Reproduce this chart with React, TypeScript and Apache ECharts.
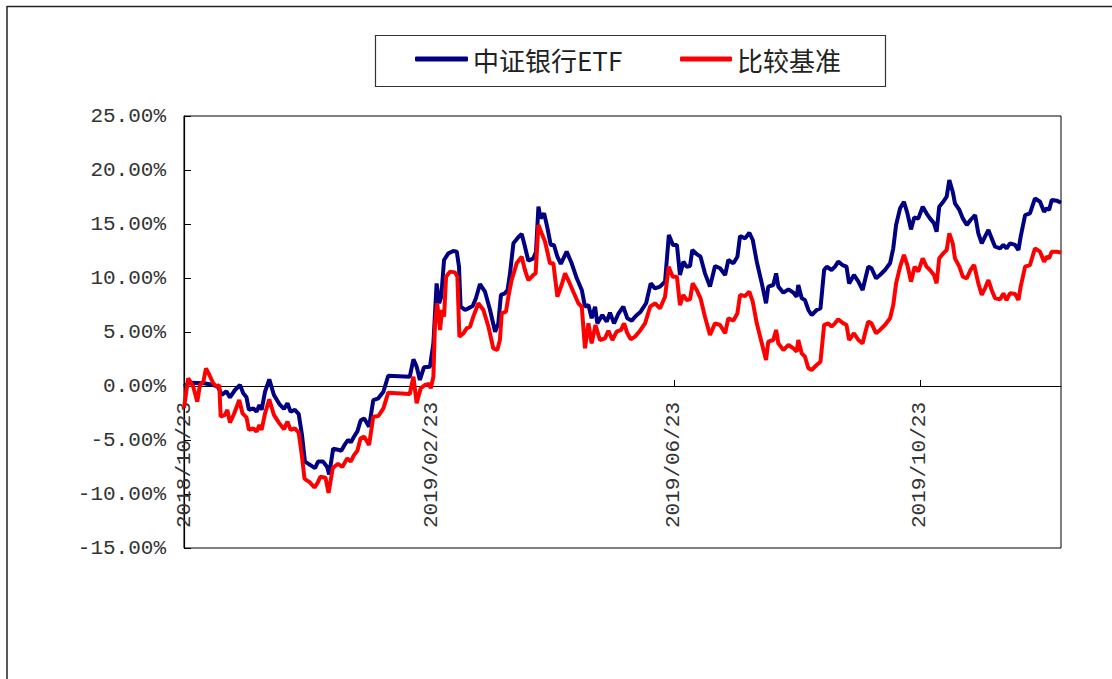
import React, { useEffect, useRef } from "react";
import * as echarts from "echarts";

// x positions are calendar days counted from 2018/10/23
const lastDay = 435;
const tickDays = [0, 123, 243, 365];
const tickLabels = ["2018/10/23", "2019/02/23", "2019/06/23", "2019/10/23"];

const seriesNames = ["中证银行ETF", "比较基准"];

const etfDays = [
  0, 3, 10, 14.5, 17, 18.7, 21, 22.8, 25.3, 27.8, 29.4, 31, 32.2, 34.4, 36, 37.4, 38.5, 40.2, 42.3, 44.6,
  47.3, 49.6, 51.3, 52.9, 55, 56.9, 58.5, 60, 62.5, 65, 66.5, 69, 71, 72, 74, 76.4, 78, 79.5, 81.3, 82.8,
  84.3, 86, 87.6, 89.4, 91.8, 93.9, 96.4, 98.9, 101.3, 112, 113.8, 115.4, 117, 119, 122, 123.7, 125.3, 126.6, 127.6, 129,
  131.1, 133.6, 135.3, 136.4, 137.2, 139.4, 141, 143.2, 144.8, 146.8, 149.3, 151.8, 154.3, 155.9, 157.2, 159.2, 160.5, 161.7, 163.4, 165.8,
  167.5, 168.7, 170.8, 173.3, 174.6, 175.8, 176.9, 178.6, 180.2, 181.9, 183.5, 185.2, 186.9, 189.8, 192.3, 194.8, 197.3, 198.9, 200.6, 202.2,
  203.9, 205, 207.5, 209.7, 211.3, 213.3, 215.4, 217.9, 219.9, 222.1, 224.2, 226.5, 229.2, 231.5, 233.6, 236.1, 238.6, 240.5, 242.5, 244.5,
  246, 247.7, 249.3, 251, 252.1, 254.3, 256.2, 258.4, 260.9, 263.4, 265.9, 268.4, 270, 272.5, 274.5, 275.8, 278.3, 280.4, 282.1, 284.1,
  286.6, 288.7, 289.8, 292.3, 293.7, 294.8, 297.3, 299.8, 302.3, 303.9, 304.7, 306.4, 308, 309.7, 311.3, 313.8, 315.7, 317.5, 318.8, 321.2,
  322.9, 324.5, 326.6, 328.6, 329.9, 332.3, 334.5, 336.6, 337.8, 339.4, 341, 343.3, 345.2, 347.7, 350.2, 351.8, 353.2, 355.2, 357.1, 358.8,
  360.6, 362.2, 364.2, 366.4, 368.3, 370, 372, 373.3, 374.6, 376.6, 378.3, 379.6, 381.3, 382.4, 384.6, 386.3, 388.3, 390.1, 392.4, 394,
  395.7, 397.3, 399, 400.6, 402.3, 404.8, 406.4, 408, 409.7, 412.2, 413.9, 415, 417.2, 419.6, 422.1, 424.6, 426.6, 427.9, 429.1, 430.4,
  432.9, 435,
];
const etfValues = [
  0.0, 0.3, 0.25, 0.1, -0.1, -0.83, -0.5, -1.05, -0.37, 0.1, -0.68, -1.05, -2.2, -2.07, -2.38, -1.76, -2.2, -0.53, 0.62, -0.83,
  -1.67, -2.13, -1.6, -2.38, -2.2, -2.6, -4.5, -7.0, -7.3, -7.6, -7.0, -7.0, -7.5, -8.2, -5.8, -5.9, -6.0, -5.5, -5.0, -5.2,
  -4.7, -4.2, -3.2, -3.0, -3.77, -1.3, -1.14, -0.53, 0.95, 0.86, 2.47, 1.79, 0.56, 1.73, 1.79, 3.95, 9.5, 7.66, 8.27, 11.67,
  12.28, 12.5, 12.44, 11.05, 7.34, 7.04, 7.19, 7.4, 8.12, 9.44, 8.73, 7.04, 5.03, 5.8, 8.43, 8.58, 8.89, 10.43, 13.21, 13.77,
  14.07, 13.21, 11.6, 11.82, 12.44, 16.6, 15.52, 15.99, 14.69, 13.06, 13.06, 11.97, 11.3, 12.44, 11.36, 9.97, 8.89, 7.34, 7.5, 6.27,
  7.34, 5.8, 6.57, 5.96, 6.79, 5.8, 6.67, 7.34, 6.27, 6.05, 6.51, 6.88, 7.66, 9.5, 9.04, 9.2, 9.66, 13.98, 13.06, 13.06,
  10.28, 11.51, 11.05, 11.11, 12.59, 12.22, 11.97, 10.43, 9.2, 11.11, 10.9, 10.28, 11.67, 11.36, 11.97, 13.89, 13.67, 14.19, 13.52, 11.51,
  9.5, 7.66, 9.2, 9.35, 10.43, 9.2, 8.64, 8.95, 8.64, 8.27, 9.35, 8.12, 7.96, 7.04, 6.57, 7.04, 7.19, 10.74, 11.05, 10.74,
  11.05, 11.51, 11.2, 11.05, 9.5, 10.28, 9.66, 8.89, 9.81, 11.05, 10.9, 9.97, 10.28, 10.74, 11.36, 12.75, 14.91, 16.45, 17.06, 16.0,
  14.5, 15.6, 15.5, 16.6, 15.99, 15.52, 15.06, 14.29, 16.6, 17.06, 17.53, 19.07, 17.99, 16.91, 16.3, 15.52, 14.91, 15.37, 15.83, 14.14,
  13.21, 13.83, 14.44, 13.67, 12.9, 12.75, 13.06, 12.75, 13.21, 13.06, 12.59, 13.83, 15.83, 15.99, 17.38, 17.06, 16.14, 16.45, 16.3, 17.22,
  17.16, 16.97,
];

const benchDays = [
  0, 2.1, 4.6, 6.6, 7.9, 9.6, 10.9, 12.6, 14.5, 16.2, 17.5, 18.2, 20.3, 21.5, 22.8, 24.8, 27.4, 29, 31, 32.2,
  34.4, 36, 37.4, 38.5, 40.2, 42.3, 44.6, 47.3, 49.6, 51.3, 52.9, 55, 56.9, 58.5, 59.8, 62.3, 64.7, 66.2, 67.7, 70.2,
  71.7, 73.8, 76.4, 78.5, 81, 82.7, 84.3, 86, 87.6, 89.4, 91.8, 93.9, 96.4, 98.9, 101.3, 112, 113.8, 115.4, 117.4, 119.5,
  121.6, 122.4, 123.7, 124.5, 125.6, 127, 128, 129, 130, 131.9, 134.4, 135.6, 136.6, 138.6, 140.2, 141.9, 143.5, 146, 148.5, 151,
  153.4, 155.4, 156.7, 157.6, 159.7, 160.9, 162.5, 165, 167.5, 169.1, 170.8, 173.3, 174.4, 175.8, 177.4, 179.1, 181.5, 183.2, 185.2, 187.3,
  189, 190.6, 193.1, 195.6, 197.3, 198.9, 200.6, 202.2, 204.1, 206.3, 208.8, 210.5, 212.5, 214.6, 216.8, 218.3, 219.9, 221.6, 223.7, 226.2,
  228.7, 231.2, 233.6, 236.1, 238.6, 240.4, 242.4, 244.5, 246, 247.7, 249.3, 251, 252.3, 254.3, 256.2, 258.4, 260.9, 263.4, 265.9, 268.4,
  270, 272.5, 274.5, 275.8, 278.3, 280.4, 282.1, 284.1, 286.6, 288.7, 289.8, 292.3, 293.7, 294.8, 297.3, 299.8, 302.3, 303.9, 304.7, 306.4,
  308, 309.7, 311.3, 313.8, 315.7, 317.5, 319.6, 321.2, 322.9, 324.5, 326.6, 328.6, 329.9, 332.3, 334.5, 336.6, 337.8, 339.4, 341, 343.3,
  345.2, 347.7, 350.2, 351.8, 353.2, 355.2, 357.1, 358.8, 360.6, 362.4, 364.2, 366.4, 368.3, 370, 372, 373.3, 374.6, 376.6, 378.3, 379.6,
  381.3, 382.4, 384.6, 386.3, 388.3, 390.1, 391.9, 394, 395.7, 397.3, 399, 400.6, 402.3, 404.8, 406.4, 408, 409.7, 412.2, 413.9, 415,
  417.2, 419.6, 422.1, 424.6, 426.6, 427.9, 429.1, 430.4, 432.9, 435,
];
const benchValues = [
  -2.0, 0.71, -0.06, -1.45, 0.09, 0.4, 1.64, 1.02, 0.25, -0.06, 0.09, -2.84, -2.68, -2.22, -3.4, -2.59, -1.3, -2.53, -2.9, -4.07,
  -3.92, -4.23, -3.61, -4.07, -2.53, -1.23, -2.68, -3.46, -4.01, -3.3, -4.07, -3.92, -4.32, -6.5, -8.6, -8.9, -9.4, -9.0, -8.4, -8.5,
  -9.9, -7.6, -7.2, -7.5, -6.7, -7.0, -6.4, -6.0, -4.84, -4.69, -5.46, -2.84, -2.78, -2.07, -0.62, -0.74, 0.86, -1.6, -0.22, 0.09,
  0.19, -0.22, 0.86, 5.8, 7.66, 5.19, 7.04, 6.42, 10.12, 10.59, 10.52, 10.12, 4.57, 4.88, 5.34, 5.5, 6.42, 7.66, 7.04, 5.5,
  3.49, 3.33, 4.26, 6.73, 6.88, 8.27, 9.81, 11.36, 11.97, 10.74, 9.81, 10.28, 10.43, 14.91, 14.14, 13.36, 11.36, 11.36, 8.27, 9.35,
  10.43, 9.81, 8.73, 7.66, 7.34, 3.49, 5.8, 3.95, 5.65, 4.26, 4.41, 5.12, 4.26, 5.03, 5.19, 5.8, 4.88, 4.32, 4.57, 5.12,
  5.8, 7.34, 7.66, 7.19, 8.27, 11.05, 10.12, 10.12, 7.5, 8.43, 7.96, 8.02, 9.5, 8.89, 8.12, 6.42, 4.72, 5.8, 5.65, 4.88,
  6.27, 6.05, 6.73, 8.43, 8.33, 8.73, 7.81, 5.8, 3.95, 2.41, 4.1, 4.26, 5.19, 3.95, 3.33, 3.8, 3.49, 3.18, 4.26, 3.02,
  2.71, 1.64, 1.48, 1.94, 2.25, 5.65, 5.8, 5.5, 5.8, 6.17, 5.86, 5.65, 4.26, 4.88, 4.26, 3.95, 4.88, 5.96, 5.8, 4.88,
  5.19, 5.65, 6.27, 7.5, 9.5, 11.05, 12.13, 11.2, 9.66, 11.05, 10.6, 11.82, 11.05, 10.74, 10.28, 9.5, 11.82, 12.28, 12.59, 14.14,
  13.21, 11.82, 11.05, 10.12, 9.97, 10.74, 11.2, 9.5, 8.43, 9.04, 9.81, 8.89, 8.12, 8.02, 8.58, 7.96, 8.58, 8.52, 7.96, 9.2,
  11.05, 11.2, 12.75, 12.44, 11.51, 11.97, 11.82, 12.44, 12.44, 12.34,
];

const yMin = -15;
const yMax = 25;
const yStep = 5;

const gridTop = 116;
const gridHeight = 432;
// distance from the bottom of the plot to the 0% line
const zeroOffset = (gridHeight * (0 - yMin)) / (yMax - yMin);

const labelFont = "'Liberation Mono', 'DejaVu Sans Mono', monospace";
const legendFont = "'Noto Sans CJK SC', sans-serif";

export default function App() {
  const ref = useRef<HTMLDivElement>(null);

  useEffect(() => {
    if (!ref.current) return;
    const chart = echarts.init(ref.current, null, { renderer: "svg" });
    const etfData = etfDays.map((d, i) => [d, etfValues[i]]);
    const benchData = benchDays.map((d, i) => [d, benchValues[i]]);

    chart.setOption({
      animation: false,
      backgroundColor: "#ffffff",
      graphic: [
        { type: "line", shape: { x1: 7, y1: 6.5, x2: 1112, y2: 6.5 }, style: { stroke: "#222", lineWidth: 1.5 } },
        { type: "line", shape: { x1: 7, y1: 6, x2: 7, y2: 679 }, style: { stroke: "#222", lineWidth: 1.5 } },
        {
          type: "rect",
          shape: { x: 375.5, y: 35.5, width: 510, height: 51 },
          style: { fill: "#fff", stroke: "#333", lineWidth: 1.2 },
          z: -1,
        },
      ],
      legend: [
        {
          data: [seriesNames[0]],
          left: 415,
          top: 46,
          padding: 0,
          itemWidth: 53,
          itemHeight: 5,
          icon: "roundRect",
          textStyle: { fontFamily: legendFont, fontSize: 26, color: "#222" },
        },
        {
          data: [seriesNames[1]],
          left: 680,
          top: 46,
          padding: 0,
          itemWidth: 52,
          itemHeight: 5,
          icon: "roundRect",
          textStyle: { fontFamily: legendFont, fontSize: 26, color: "#222" },
        },
      ],
      grid: {
        left: 184,
        top: gridTop,
        width: 877,
        height: gridHeight,
        containLabel: false,
        outerBoundsMode: "none",
        show: true,
        borderColor: "#000",
        borderWidth: 1,
        backgroundColor: "transparent",
      },
      xAxis: {
        type: "value",
        position: "bottom",
        offset: -zeroOffset,
        min: 0,
        max: lastDay,
        axisLine: { onZero: false, lineStyle: { color: "#000", width: 1.2 } },
        axisTick: { show: true, inside: true, length: 6, customValues: tickDays, lineStyle: { color: "#000" } },
        axisLabel: {
          customValues: tickDays,
          rotate: 90,
          margin: 16,
          fontFamily: labelFont,
          fontSize: 21,
          color: "#333",
          formatter: (val: number) => {
            const i = tickDays.indexOf(Math.round(val));
            return i >= 0 ? tickLabels[i] : "";
          },
        },
        splitLine: { show: false },
      },
      yAxis: {
        type: "value",
        min: yMin,
        max: yMax,
        interval: yStep,
        axisLine: { show: true, lineStyle: { color: "#000", width: 1.2 } },
        axisTick: { show: true, inside: true, length: 7, lineStyle: { color: "#000" } },
        axisLabel: {
          margin: 18,
          fontFamily: labelFont,
          fontSize: 21,
          color: "#333",
          formatter: (v: number) => v.toFixed(2) + "%",
        },
        splitLine: { show: false },
      },
      series: [
        {
          name: seriesNames[0],
          type: "line",
          data: etfData,
          showSymbol: false,
          symbol: "none",
          lineStyle: { color: "#000080", width: 4 },
          itemStyle: { color: "#000080" },
          z: 2,
        },
        {
          name: seriesNames[1],
          type: "line",
          data: benchData,
          showSymbol: false,
          symbol: "none",
          lineStyle: { color: "#ff0000", width: 4 },
          itemStyle: { color: "#ff0000" },
          z: 3,
        },
      ],
    });
    return () => chart.dispose();
  }, []);

  return (
    <div
      ref={ref}
      style={{ position: "absolute", left: 0, top: 0, width: 1112, height: 679 }}
    />
  );
}
